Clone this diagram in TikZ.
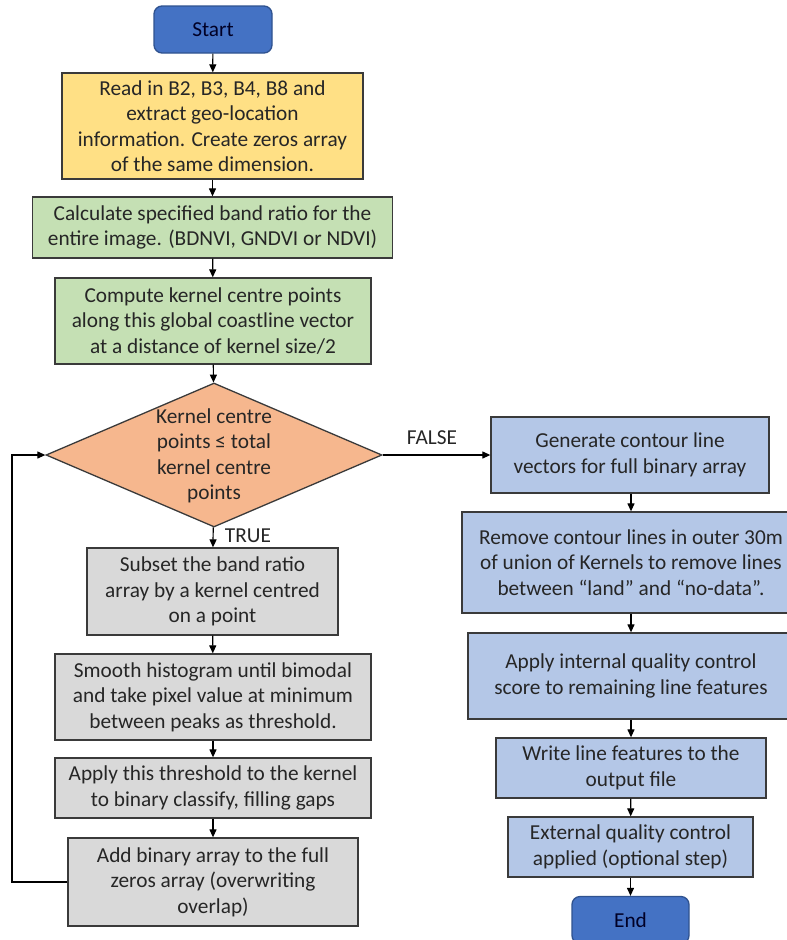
\documentclass[tikz,border=0pt]{standalone}
\usepackage{fontspec}
\setmainfont{Carlito}
\usetikzlibrary{shapes.geometric,arrows.meta}
\definecolor{startblue}{HTML}{4472C4}
\definecolor{startborder}{HTML}{2F528F}
\definecolor{yellowfill}{HTML}{FFE085}
\definecolor{greenfill}{HTML}{C5E0B4}
\definecolor{orangefill}{HTML}{F6B78E}
\definecolor{grayfill}{HTML}{D9D9D9}
\definecolor{bluefill}{HTML}{B4C7E7}
\definecolor{edgecol}{HTML}{3A3A3A}
\definecolor{txtcol}{HTML}{262626}
\tikzset{
  base/.style={draw=edgecol, line width=1.3pt, align=center, inner sep=0pt, text=txtcol,
    font=\fontsize{21.3}{25.5}\selectfont},
  terminal/.style={base, draw=startborder, fill=startblue, rounded corners=8pt, text=black!85!blue},
  ybox/.style={base, fill=yellowfill},
  gbox/.style={base, fill=greenfill},
  graybox/.style={base, fill=grayfill},
  bbox/.style={base, fill=bluefill},
  dbox/.style={base, diamond, fill=orangefill},
  lbl/.style={inner sep=0pt, text=txtcol, font=\fontsize{21.3}{25.5}\selectfont},
  arr/.style={draw=black, line width=1.2pt, -{Triangle[width=7pt,length=8pt]}},
}
\begin{document}
\begin{tikzpicture}[x=1pt,y=-1pt]
\clip (0,0) rectangle (787,940);
\useasboundingbox (0,0) rectangle (787,940);
\fill[white] (0,0) rectangle (787,940);

\node[terminal, minimum width=118pt, minimum height=47pt] (start) at (213,29.5) {Start};
\node[ybox, minimum width=301pt, minimum height=106pt] (read) at (212.5,126)
  {Read in B2, B3, B4, B8 and\\extract geo-location\\information. Create zeros array\\of the same dimension.};
\node[gbox, minimum width=360pt, minimum height=61pt] (calc) at (212.5,227.5)
  {Calculate specified band ratio for the\\entire image. (BDNVI, GNDVI or NDVI)};
\node[gbox, minimum width=316pt, minimum height=86pt] (comp) at (213,321)
  {Compute kernel centre points\\along this global coastline vector\\at a distance of kernel size/2};
\node[dbox, minimum width=336pt, minimum height=144pt] (dec) at (214,455) {};
\node[lbl, align=center] (dect) at (214,456)
  {Kernel centre\\points ≤ total\\kernel centre\\points};
\node[graybox, minimum width=251pt, minimum height=87pt] (subset) at (212.5,591.5)
  {Subset the band ratio\\array by a kernel centred\\on a point};
\node[graybox, minimum width=316pt, minimum height=86pt] (smooth) at (213,697)
  {Smooth histogram until bimodal\\and take pixel value at minimum\\between peaks as threshold.};
\node[graybox, minimum width=316pt, minimum height=60pt] (apply) at (213,788)
  {Apply this threshold to the kernel\\to binary classify, filling gaps};
\node[graybox, minimum width=290pt, minimum height=88pt] (add) at (213,882)
  {Add binary array to the full\\zeros array (overwriting\\overlap)};

\node[bbox, minimum width=278pt, minimum height=76pt] (gen) at (630,455)
  {Generate contour line\\vectors for full binary array};
\node[bbox, minimum width=338pt, minimum height=101pt] (remove) at (631,562.5)
  {Remove contour lines in outer 30m\\of union of Kernels to remove lines\\between “land” and “no-data”.};
\node[bbox, minimum width=326pt, minimum height=86pt] (internal) at (631,676)
  {Apply internal quality control\\score to remaining line features};
\node[bbox, minimum width=270pt, minimum height=60pt] (write) at (631,768)
  {Write line features to the\\output file};
\node[bbox, minimum width=245pt, minimum height=60pt] (external) at (630.5,847)
  {External quality control\\applied (optional step)};
\node[terminal, minimum width=117pt, minimum height=47pt] (end) at (630.5,920) {End};

\node[lbl] (truel) at (248,536) {TRUE};
\node[lbl] (falsel) at (432,438) {FALSE};

\coordinate (loopA) at (12,882);
\coordinate (loopB) at (12,455);

\draw[arr] (start) -- (read);
\draw[arr] (read) -- (calc);
\draw[arr] (calc) -- (comp);
\draw[arr] (comp) -- (dec);
\draw[arr] (dec) -- (subset);
\draw[arr] (subset) -- (smooth);
\draw[arr] (smooth) -- (apply);
\draw[arr] (apply) -- (add);
\draw[arr] (add.west) -- (loopA) -- (loopB) -- (dec.west);
\draw[arr] (dec.east) -- (gen.west);
\draw[arr] (gen.south -| remove.north) -- (remove);
\draw[arr] (remove) -- (internal);
\draw[arr] (internal) -- (write);
\draw[arr] (write) -- (external);
\draw[arr] (external.south -| end.north) -- (end);
\end{tikzpicture}
\end{document}
